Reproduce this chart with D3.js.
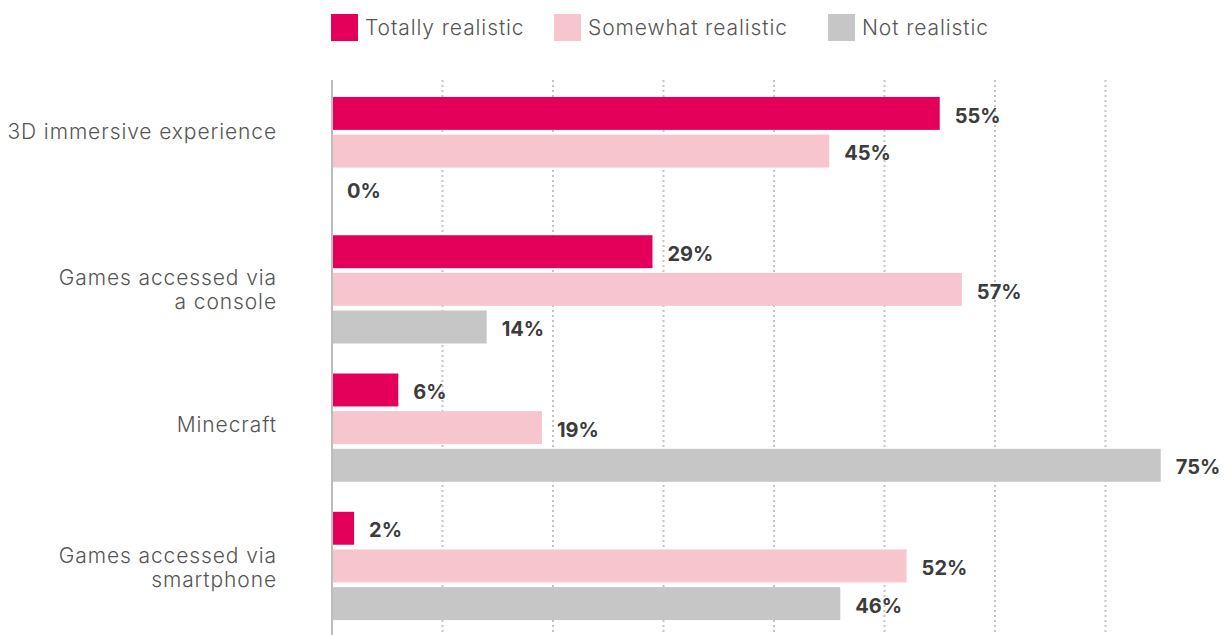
<!DOCTYPE html>
<html>
<head>
<meta charset="utf-8">
<script src="https://cdn.jsdelivr.net/npm/d3@7"></script>
<style>
  html, body { margin: 0; padding: 0; background: #ffffff; }
  svg { display: block; }
  text { font-family: Inter, "Open Sans", sans-serif; }
</style>
</head>
<body>
<svg id="chart" width="1231" height="635"></svg>
<script>
// Survey answers: how realistic each kind of experience is
const categories = [
  ["3D immersive experience"],
  ["Games accessed via", "a console"],
  ["Minecraft"],
  ["Games accessed via", "smartphone"]
];
const seriesNames = ["Totally realistic", "Somewhat realistic", "Not realistic"];
const totallyRealistic  = [55, 29, 6, 2];
const somewhatRealistic = [45, 57, 19, 52];
const notRealistic      = [0, 14, 75, 46];
const gridTicks = [10, 20, 30, 40, 50, 60, 70];

const seriesValues = [totallyRealistic, somewhatRealistic, notRealistic];
const colors = ["#E4005A", "#F7C5CD", "#C6C6C6"];

const svg = d3.select("#chart");

const x = d3.scaleLinear().domain([0, 80]).range([332, 1216]);
const y0 = d3.scaleBand()
  .domain(d3.range(categories.length))
  .range([82, 635])
  .paddingInner(0.217)
  .paddingOuter(0.108);
const y1 = d3.scaleBand()
  .domain(d3.range(seriesNames.length))
  .range([0, y0.bandwidth()])
  .paddingInner(0.125);

// dotted vertical gridlines
svg.append("g")
  .selectAll("line")
  .data(gridTicks)
  .join("line")
  .attr("x1", d => x(d)).attr("x2", d => x(d))
  .attr("y1", 80).attr("y2", 635)
  .attr("stroke", "#C4C4C4")
  .attr("stroke-width", 2)
  .attr("stroke-dasharray", "2,3");

// bars
const groups = svg.append("g")
  .selectAll("g")
  .data(categories.map((c, i) => i))
  .join("g")
  .attr("transform", i => `translate(0,${y0(i)})`);

groups.selectAll("rect")
  .data(i => seriesValues.map((vals, s) => ({ s, v: vals[i] })))
  .join("rect")
  .attr("x", x(0))
  .attr("y", d => y1(d.s))
  .attr("width", d => x(d.v) - x(0))
  .attr("height", y1.bandwidth())
  .attr("fill", d => colors[d.s]);

groups.selectAll("text.value")
  .data(i => seriesValues.map((vals, s) => ({ s, v: vals[i] })))
  .join("text")
  .attr("class", "value")
  .attr("x", d => x(d.v) + 15)
  .attr("y", d => y1(d.s) + y1.bandwidth() / 2 + 2)
  .attr("dy", "0.36em")
  .attr("font-size", 20)
  .attr("font-weight", 700)
  .attr("fill", "#3C3C3C")
  .text(d => d.v + "%");

// vertical axis line
svg.append("line")
  .attr("x1", x(0)).attr("x2", x(0))
  .attr("y1", 80).attr("y2", 635)
  .attr("stroke", "#BDBDBD")
  .attr("stroke-width", 2);

// category labels
const labelShift = [-20, 0, -3, 2];
const lineH = 24;
svg.append("g")
  .selectAll("text")
  .data(categories.map((lines, i) => ({ lines, i })))
  .join("text")
  .attr("text-anchor", "end")
  .attr("font-size", 21)
  .attr("font-weight", 300)
  .attr("letter-spacing", 0.9)
  .attr("fill", "#555555")
  .each(function(d) {
    const cy = y0(d.i) + y0.bandwidth() / 2 + labelShift[d.i];
    const n = d.lines.length;
    d3.select(this).selectAll("tspan")
      .data(d.lines)
      .join("tspan")
      .attr("x", 277)
      .attr("y", (l, k) => cy + (k - (n - 1) / 2) * lineH)
      .attr("dy", "0.36em")
      .text(l => l);
  });

// legend
const legendX = [331, 554, 828];
const legend = svg.append("g")
  .selectAll("g")
  .data(seriesNames.map((name, s) => ({ name, s })))
  .join("g")
  .attr("transform", d => `translate(${legendX[d.s]},14)`);
legend.append("rect")
  .attr("width", 27).attr("height", 27)
  .attr("fill", d => colors[d.s]);
legend.append("text")
  .attr("x", 34).attr("y", 13.5)
  .attr("dy", "0.36em")
  .attr("font-size", 21)
  .attr("font-weight", 300)
  .attr("letter-spacing", 0.9)
  .attr("fill", "#555555")
  .text(d => d.name);
</script>
</body>
</html>
